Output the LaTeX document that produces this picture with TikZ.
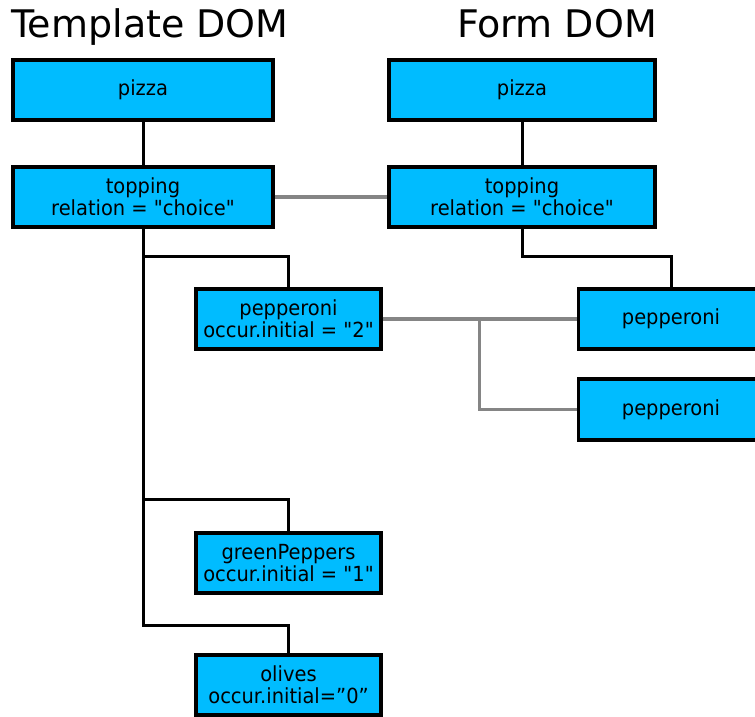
\documentclass[tikz,border=0pt]{standalone}
\usepackage{fontspec}
\newfontfamily\dfont{DejaVu Sans}[FakeStretch=0.935]
\newfontfamily\tfont{DejaVu Sans}
\usetikzlibrary{calc}
\definecolor{boxfill}{RGB}{0,188,255}
\definecolor{linkgray}{RGB}{133,133,133}
\begin{document}
\begin{tikzpicture}[x=1pt,y=1pt,
  domnode/.style={draw=black, line width=3.3pt, fill=boxfill, minimum height=60pt,
    inner sep=0pt, align=center, font=\dfont\fontsize{20.8}{22}\selectfont},
  tree/.style={draw=black, line width=3pt},
  link/.style={draw=linkgray, line width=3.2pt},
  title/.style={inner sep=0pt, font=\tfont\fontsize{38}{40}\selectfont}]
\useasboundingbox (0,0) rectangle (755,716);
\clip (0,0) rectangle (755,716);
\node[title, anchor=base west] (ttitle) at (11,678.5) {Template DOM};
\node[title, anchor=base west] (ftitle) at (457,678.5) {Form DOM};

\node[domnode, minimum width=260pt] (tpizza) at (143,626) {pizza};
\node[domnode, minimum width=266pt] (fpizza) at (522,626) {pizza};
\node[domnode, minimum width=260pt] (ttop) at (143,519) {topping\\relation = "choice"};
\node[domnode, minimum width=266pt] (ftop) at (522,519) {topping\\relation = "choice"};
\node[domnode, minimum width=185pt] (tpep) at (288.5,397) {pepperoni\\occur.initial = "2"};
\node[domnode, minimum width=185pt] (fpep1) at (671,397) {pepperoni};
\node[domnode, minimum width=185pt, minimum height=61pt] (fpep2) at (671,306.5) {pepperoni};
\node[domnode, minimum width=185pt] (tgreen) at (288.5,153) {greenPeppers\\occur.initial = "1"};
\node[domnode, minimum width=185pt] (tolives) at (288.5,31) {olives\\occur.initial=”0”};

\draw[tree] (tpizza.south) -- (ttop.north);
\draw[tree] (fpizza.south) -- (ftop.north);
\draw[tree] (ttop.south) |- ([yshift=31pt]tpep.north) -- (tpep.north);
\draw[tree] (ttop.south) |- ([yshift=32pt]tgreen.north) -- (tgreen.north);
\draw[tree] (ttop.south) |- ([yshift=28pt]tolives.north) -- (tolives.north);
\draw[tree] (ftop.south) |- ([yshift=31pt]fpep1.north) -- (fpep1.north);

\draw[link] (ttop.east) -- (ftop.west);
\draw[link] (tpep.east) -- (fpep1.west);
\coordinate (split) at ($(tpep.east)!0.5!(fpep1.west)$);
\draw[link] (split) |- (fpep2.west);
\end{tikzpicture}
\end{document}
